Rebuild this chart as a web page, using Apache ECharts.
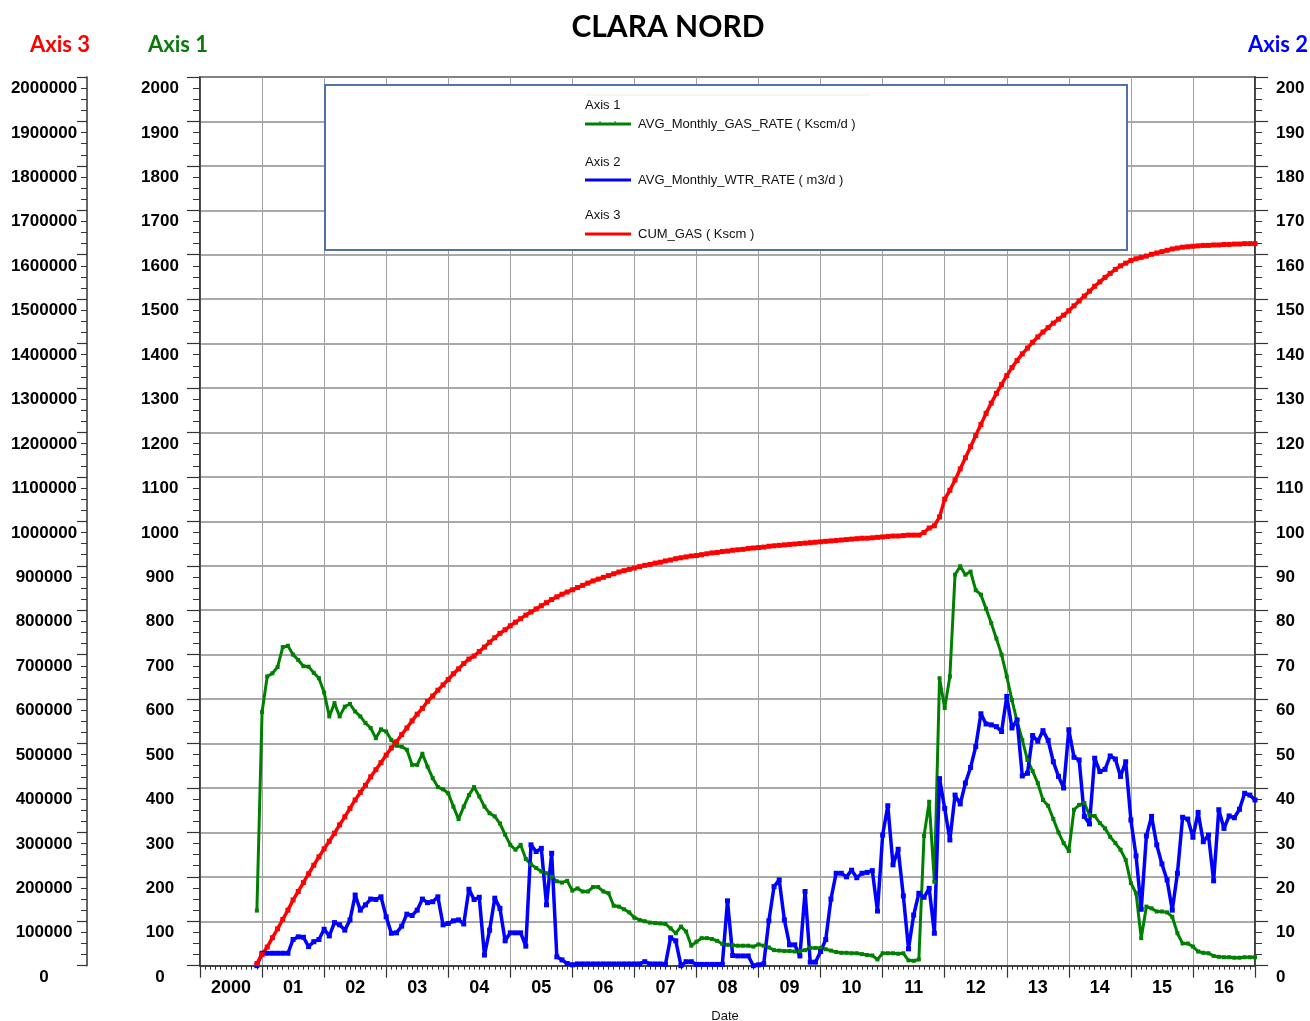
<!DOCTYPE html>
<html>
<head>
<meta charset="utf-8">
<title>CLARA NORD</title>
<script src="https://cdn.jsdelivr.net/npm/echarts@6/dist/echarts.min.js"></script>
<style>
  html, body { margin: 0; padding: 0; background: #fff; }
  #chart { width: 1310px; height: 1021px; }
</style>
</head>
<body>
<div id="chart"></div>
<script>
// monthly data, first point = Dec 2000 (month index 11 counted from Jan 2000)
const firstMonth = 11
const yearLabels = ['2000', '01', '02', '03', '04', '05', '06', '07', '08', '09', '10', '11', '12', '13', '14', '15', '16']

// Axis 1 - AVG_Monthly_GAS_RATE (Kscm/d)
const gasRate = [
  124, 571, 651, 658, 672, 717, 720, 700, 688, 674,
  673, 659, 647, 615, 561, 591, 561, 583, 589, 572,
  561, 546, 535, 512, 532, 527, 508, 495, 493, 486,
  452, 452, 477, 448, 422, 402, 397, 388, 358, 330,
  358, 384, 402, 381, 358, 343, 336, 320, 295, 272,
  261, 272, 240, 228, 220, 212, 208, 200, 190, 187,
  191, 169, 174, 167, 167, 177, 177, 167, 163, 135,
  133, 127, 120, 108, 103, 100, 97, 96, 95, 94,
  84, 73, 88, 77, 45, 54, 62, 62, 60, 56,
  49, 47, 46, 45, 45, 45, 43, 48, 45, 41,
  35, 34, 33, 33, 32, 33, 35, 40, 40, 40,
  37, 34, 31, 29, 29, 28, 28, 26, 24, 23,
  14, 28, 28, 28, 27, 28, 12, 11, 14, 292,
  369, 189, 647, 580, 651, 880, 899, 880, 887, 845,
  835, 803, 771, 736, 700, 651, 598, 550, 508, 463,
  438, 411, 373, 360, 330, 300, 276, 258, 351, 362,
  366, 339, 337, 321, 309, 290, 276, 261, 238, 186,
  163, 62, 133, 129, 122, 122, 120, 110, 73, 50,
  50, 43, 32, 29, 28, 22, 20, 19, 19, 18,
  18, 19, 19, 19
]

// Axis 2 - AVG_Monthly_WTR_RATE (m3/d)
const wtrRate = [
  0, 2.8, 2.8, 2.8, 2.8, 2.8, 2.8, 5.9, 6.5, 6.4,
  4.3, 5.4, 5.9, 8.2, 6.7, 9.7, 9.2, 8.0, 10.3, 15.9,
  12.5, 13.7, 15.0, 14.9, 15.5, 11.0, 7.3, 7.4, 8.9, 11.6,
  11.3, 12.5, 15.0, 14.2, 14.4, 15.5, 9.2, 9.5, 10.1, 10.3,
  9.4, 17.2, 14.9, 15.4, 2.4, 8.0, 15.2, 12.9, 5.6, 7.4,
  7.4, 7.4, 4.4, 27.2, 25.7, 26.4, 13.7, 25.3, 2.0, 1.3,
  0.5, 0.2, 0.4, 0.4, 0.4, 0.4, 0.4, 0.4, 0.4, 0.4,
  0.4, 0.4, 0.4, 0.4, 0.4, 0.9, 0.4, 0.4, 0.4, 0.3,
  6.3, 5.6, 0, 0.9, 0.9, 0.3, 0.3, 0.3, 0.3, 0.3,
  0.3, 14.6, 2.3, 2.2, 2.2, 2.2, 0, 0.2, 0.4, 10.1,
  17.8, 19.3, 10.3, 4.7, 4.7, 2.2, 16.7, 0.8, 0.8, 3.2,
  5.9, 15.0, 20.8, 20.8, 20.0, 21.5, 19.8, 20.8, 21.0, 21.4,
  12.3, 29.4, 36.0, 22.7, 26.2, 15.7, 3.8, 11.4, 16.3, 15.4,
  17.4, 7.3, 42.1, 35.4, 28.3, 38.4, 36.4, 41.1, 44.6, 49.3,
  56.7, 54.4, 54.2, 53.8, 52.7, 60.6, 53.5, 55.3, 42.7, 43.3,
  51.8, 50.5, 52.9, 50.7, 45.9, 42.6, 40.0, 53.1, 46.9, 46.3,
  33.6, 31.9, 46.7, 43.7, 44.2, 47.2, 46.5, 42.6, 45.9, 32.8,
  24.7, 12.7, 29.2, 33.6, 27.2, 22.9, 19.3, 12.5, 20.8, 33.4,
  33.0, 28.9, 34.5, 27.9, 29.4, 19.1, 35.1, 30.9, 33.7, 33.3,
  35.2, 38.8, 38.4, 37.3
]

// Axis 3 - CUM_GAS (Kscm)
const cumGas = [
  5000, 25000, 42000, 63000, 83000, 104000, 125000, 148000, 167000, 187000,
  207000, 226000, 245000, 263000, 280000, 298000, 317000, 335000, 354000, 373000,
  390000, 406000, 425000, 441000, 457000, 474000, 490000, 504000, 520000, 535000,
  551000, 566000, 579000, 595000, 607000, 620000, 632000, 644000, 657000, 668000,
  680000, 690000, 697000, 707000, 717000, 728000, 738000, 748000, 756000, 765000,
  773000, 781000, 789000, 796000, 803000, 810000, 817000, 824000, 830000, 836000,
  841000, 846000, 851000, 856000, 861000, 866000, 870000, 874000, 878000, 882000,
  886000, 889000, 892000, 895000, 898000, 901000, 903000, 906000, 908000, 911000,
  913000, 916000, 918000, 920000, 922000, 923000, 925000, 927000, 929000, 930000,
  932000, 933000, 935000, 936000, 937000, 939000, 940000, 941000, 942000, 944000,
  945000, 946000, 947000, 948000, 949000, 950000, 951000, 952000, 953000, 954000,
  955000, 956000, 957000, 958000, 959000, 960000, 961000, 962000, 962000, 963000,
  964000, 965000, 966000, 967000, 967000, 968000, 969000, 969000, 969000, 975000,
  985000, 990000, 1010000, 1050000, 1070000, 1093000, 1118000, 1143000, 1168000, 1193000,
  1218000, 1243000, 1266000, 1288000, 1308000, 1328000, 1346000, 1362000, 1377000, 1390000,
  1403000, 1415000, 1426000, 1436000, 1446000, 1455000, 1464000, 1474000, 1485000, 1496000,
  1507000, 1518000, 1529000, 1539000, 1549000, 1558000, 1567000, 1575000, 1581000, 1587000,
  1591000, 1594000, 1597000, 1601000, 1604000, 1607000, 1610000, 1613000, 1615000, 1617000,
  1618000, 1619000, 1620000, 1621000, 1621000, 1622000, 1622000, 1623000, 1623000, 1624000,
  1624000, 1625000, 1625000, 1625000
]

const FONT = 'Liberation Sans, Arial, sans-serif'
const TITLE_FONT = 'Lato, Open Sans, sans-serif'

function toPairs(values) {
  return values.map((v, i) => [2000 + (firstMonth + i) / 12, v])
}

function plain(v) {
  return String(v)
}

function valueAxis(opts) {
  return Object.assign({
    type: 'value',
    min: 0,
    axisLine: { show: true, lineStyle: { color: '#333', width: 1.5 } },
    axisTick: { show: true, length: 13, lineStyle: { color: '#333', width: 1.2 } },
    minorTick: { show: true, splitNumber: 4, length: 7, lineStyle: { color: '#333', width: 1 } },
    splitLine: { show: false }
  }, opts)
}

function sideLabel(align, margin) {
  return {
    color: '#000',
    fontFamily: FONT,
    fontWeight: 'bold',
    fontSize: 17,
    align,
    margin,
    verticalAlign: 'top',
    padding: [3, 0, 0, 0],
    formatter: plain
  }
}

const chart = echarts.init(document.getElementById('chart'))

const legendLabel = (x, y, text) => ({
  type: 'text', x, y, z: 100,
  style: { text, fill: '#111', font: '13px ' + FONT, verticalAlign: 'middle' }
})
const legendLine = (y, color) => ({
  type: 'line', z: 100,
  shape: { x1: 585, y1: y, x2: 631, y2: y },
  style: { stroke: color, lineWidth: 3 }
})

chart.setOption({
  animation: false,
  backgroundColor: '#fff',
  grid: {
    left: 200,
    right: 55,
    top: 77,
    bottom: 55.3,
    show: true,
    borderColor: '#333',
    borderWidth: 1.5
  },
  xAxis: [
    {
      type: 'value',
      min: 2000,
      max: 2017,
      interval: 1,
      axisLine: { show: true, lineStyle: { color: '#333', width: 1.5 } },
      axisTick: { show: true, length: 12, lineStyle: { color: '#333', width: 1.2 } },
      minorTick: { show: true, splitNumber: 12, length: 4, lineStyle: { color: '#333' } },
      axisLabel: { show: false },
      splitLine: { show: true, lineStyle: { color: '#a0a0a0', width: 1 } }
    },
    {
      type: 'category',
      data: yearLabels,
      boundaryGap: true,
      position: 'bottom',
      axisLine: { show: false },
      axisTick: { show: false },
      splitLine: { show: false },
      axisLabel: {
        color: '#000',
        fontFamily: FONT,
        fontWeight: 'bold',
        fontSize: 18,
        margin: 13,
        interval: 0
      }
    }
  ],
  yAxis: [
    valueAxis({
      position: 'left',
      max: 2000,
      interval: 100,
      splitLine: { show: true, lineStyle: { color: '#8c8c8c', width: 1.5 } },
      axisLabel: sideLabel('center', 40)
    }),
    valueAxis({
      position: 'right',
      max: 200,
      interval: 10,
      axisLabel: sideLabel('left', 21)
    }),
    valueAxis({
      position: 'left',
      offset: 113,
      max: 2000000,
      interval: 100000,
      axisTick: { show: true, length: 10, lineStyle: { color: '#333', width: 1.2 } },
      minorTick: { show: true, splitNumber: 4, length: 6, lineStyle: { color: '#333', width: 1 } },
      axisLabel: sideLabel('center', 43)
    })
  ],
  graphic: [
    {
      type: 'text', x: 668, y: 27,
      style: { text: 'CLARA NORD', fill: '#000', font: 'bold 30px ' + TITLE_FONT, align: 'center', verticalAlign: 'middle' }
    },
    {
      type: 'text', x: 60, y: 45,
      style: { text: 'Axis 3', fill: '#ff0000', font: 'bold 22px ' + TITLE_FONT, align: 'center', verticalAlign: 'middle' }
    },
    {
      type: 'text', x: 178, y: 45,
      style: { text: 'Axis 1', fill: '#0a7a0a', font: 'bold 22px ' + TITLE_FONT, align: 'center', verticalAlign: 'middle' }
    },
    {
      type: 'text', x: 1278, y: 45,
      style: { text: 'Axis 2', fill: '#0000ff', font: 'bold 22px ' + TITLE_FONT, align: 'center', verticalAlign: 'middle' }
    },
    {
      type: 'text', x: 725, y: 1016,
      style: { text: 'Date', fill: '#111', font: '13px ' + FONT, align: 'center', verticalAlign: 'middle' }
    },
    // legend box
    {
      type: 'rect', z: 99,
      shape: { x: 325, y: 85, width: 802, height: 165 },
      style: { fill: '#fff', stroke: '#4f73a8', lineWidth: 2 }
    },
    {
      type: 'line', z: 100,
      shape: { x1: 585, y1: 95, x2: 870, y2: 95 },
      style: { stroke: '#f7ead2', lineWidth: 1 }
    },
    legendLabel(585, 105, 'Axis 1'),
    legendLine(124, '#008000'),
    { type: 'line', z: 100, shape: { x1: 600, y1: 121, x2: 600, y2: 124 }, style: { stroke: '#008000', lineWidth: 1 } },
    { type: 'line', z: 100, shape: { x1: 615, y1: 121, x2: 615, y2: 124 }, style: { stroke: '#008000', lineWidth: 1 } },
    legendLabel(638, 124, 'AVG_Monthly_GAS_RATE ( Kscm/d )'),
    legendLabel(585, 162, 'Axis 2'),
    legendLine(180, '#0000ff'),
    legendLabel(638, 180, 'AVG_Monthly_WTR_RATE ( m3/d )'),
    legendLabel(585, 215, 'Axis 3'),
    legendLine(234, '#ff0000'),
    legendLabel(638, 234, 'CUM_GAS ( Kscm )')
  ],
  series: [
    {
      name: 'AVG_Monthly_GAS_RATE',
      type: 'line',
      xAxisIndex: 0,
      yAxisIndex: 0,
      data: toPairs(gasRate),
      symbol: 'rect',
      symbolSize: 4,
      itemStyle: { color: '#008000' },
      lineStyle: { color: '#008000', width: 3 }
    },
    {
      name: 'AVG_Monthly_WTR_RATE',
      type: 'line',
      xAxisIndex: 0,
      yAxisIndex: 1,
      data: toPairs(wtrRate),
      symbol: 'rect',
      symbolSize: 5,
      itemStyle: { color: '#0000ff' },
      lineStyle: { color: '#0000ff', width: 3.5 }
    },
    {
      name: 'CUM_GAS',
      type: 'line',
      xAxisIndex: 0,
      yAxisIndex: 2,
      data: toPairs(cumGas),
      symbol: 'rect',
      symbolSize: 5,
      itemStyle: { color: '#ff0000' },
      lineStyle: { color: '#ff0000', width: 3.5 }
    }
  ]
})
</script>
</body>
</html>
